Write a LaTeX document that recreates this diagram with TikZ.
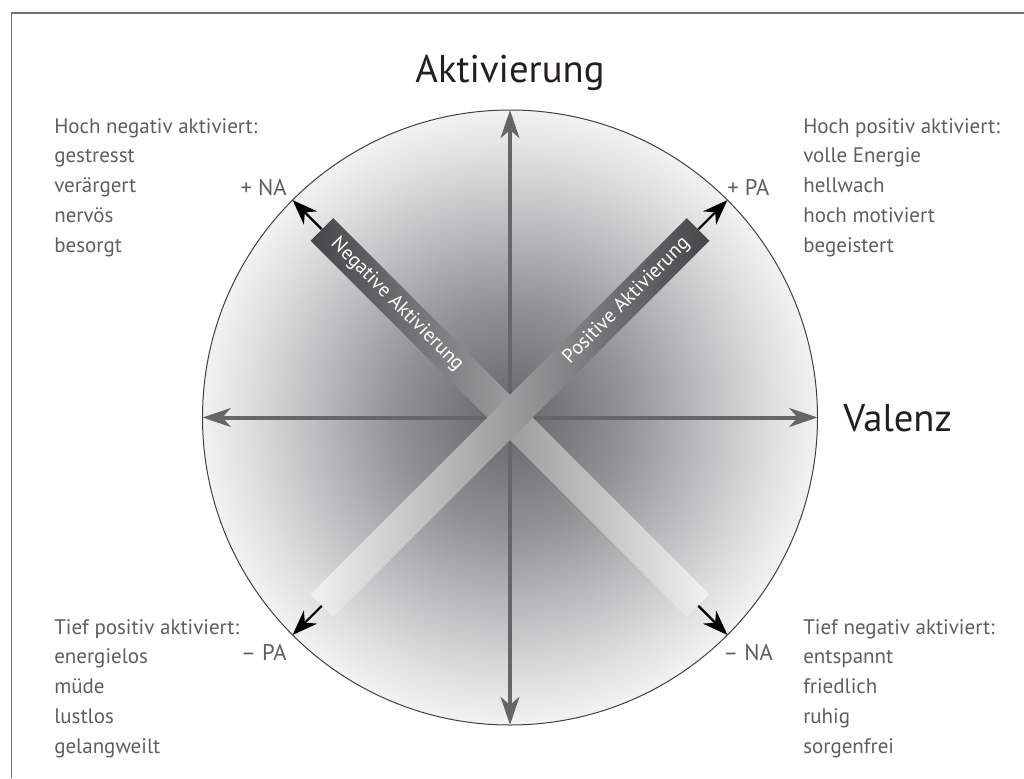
\documentclass[tikz,border=0pt]{standalone}
\usepackage{fontspec}
\setmainfont{PT Sans}
\usepackage{xcolor}
\usetikzlibrary{arrows.meta,calc}

\definecolor{disc0}{HTML}{6A6A6E}
\definecolor{disc1}{HTML}{6E6E72}
\definecolor{disc2}{HTML}{919194}
\definecolor{disc3}{HTML}{BEBEC0}
\definecolor{disc4}{HTML}{DDDDDE}
\definecolor{discrim}{HTML}{F2F2F2}
\definecolor{axisgray}{HTML}{666669}
\definecolor{bardark}{HTML}{464649}
\definecolor{barlight}{HTML}{F2F2F2}
\definecolor{txtgray}{HTML}{5E5E60}
\definecolor{headtxt}{HTML}{231F20}
\definecolor{framegray}{HTML}{707070}
\pgfdeclareradialshading{discshade}{\pgfpoint{0bp}{0bp}}{color(0bp)=(disc0); color(2bp)=(disc1); color(9bp)=(disc2); color(16bp)=(disc3); color(21bp)=(disc4); color(25bp)=(discrim); color(50bp)=(discrim)}

\begin{document}
\begin{tikzpicture}[x=0.75pt,y=0.75pt,yscale=-1,xscale=1,
  axis/.style={draw=axisgray, line width=3pt, {Stealth[length=21pt,width=14pt,inset=6pt]}-{Stealth[length=21pt,width=14pt,inset=6pt]}},
  pole/.style={draw=black, line width=1.6pt, -{Stealth[length=19pt,width=14pt,inset=6pt]}},
  bar/.style={rectangle, minimum width=399pt, minimum height=24pt, inner sep=0pt},
  bartxt/.style={text=white, font=\fontsize{15}{18}\selectfont, inner sep=0.75pt},
  polelbl/.style={text=txtgray, font=\fontsize{17}{20}\selectfont, inner sep=0pt},
  listtxt/.style={text=txtgray, font=\fontsize{15.75}{22.3}\selectfont, align=left, inner sep=0pt},
  headlbl/.style={text=headtxt, font=\fontsize{29}{34}\selectfont, inner sep=0pt}]
\useasboundingbox (0,0) rectangle (1024,778);

% frame
\draw [framegray, line width=1.1pt] (11.5,778) -- (11.5,13) -- (1024,13) ;

% disc
\node (disc) [circle, draw=black!75, line width=0.75pt, shading=discshade, minimum size=461.25pt, inner sep=0pt, outer sep=0pt] at (510,417.5) {};

% axes
\draw [axis] (disc.north) -- (disc.south) ;
\draw [axis] (disc.west) -- (disc.east) ;

% bars
\node (nabar) [bar, rotate=-45, left color=bardark, right color=barlight] at (disc.center) {};
\draw [pole] (nabar.west) -- (disc.135) ;
\draw [pole] (nabar.east) -- (disc.-45) ;
\node (pabar) [bar, rotate=45, left color=barlight, right color=bardark] at (disc.center) {};
\draw [pole] (pabar.east) -- (disc.45) ;
\draw [pole] (pabar.west) -- (disc.-135) ;
\node (natxt) [bartxt, rotate=-45] at ($(nabar.west)!0.2!(nabar.east)$) {Negative Aktivierung};
\node (patxt) [bartxt, rotate=45] at ($(pabar.west)!0.81!(pabar.east)$) {Positive Aktivierung};

% pole labels
\node (plusna) [polelbl, anchor=base east] at (287,195) {+ NA};
\node (pluspa) [polelbl, anchor=base west] at (727,195) {+ PA};
\node (minuspa) [polelbl, anchor=base east] at (287,660) {– PA};
\node (minusna) [polelbl, anchor=base west] at (723,660) {– NA};

% axis titles
\node (akt) [headlbl, anchor=base] at (510,82) {Aktivierung};
\node (val) [headlbl, anchor=base west] at (843,431) {Valenz};

% lists (anchored at the last line)
\node (hochneg) [listtxt, anchor=base west] at (54,252) {Hoch negativ aktiviert:\\gestresst\\verärgert\\nervös\\besorgt};
\node (hochpos) [listtxt, anchor=base west] at (803,252) {Hoch positiv aktiviert:\\volle Energie\\hellwach\\hoch motiviert\\begeistert};
\node (tiefpos) [listtxt, anchor=base west] at (54,753) {Tief positiv aktiviert:\\energielos\\müde\\lustlos\\gelangweilt};
\node (tiefneg) [listtxt, anchor=base west] at (803,753) {Tief negativ aktiviert:\\entspannt\\friedlich\\ruhig\\sorgenfrei};

\end{tikzpicture}
\end{document}
